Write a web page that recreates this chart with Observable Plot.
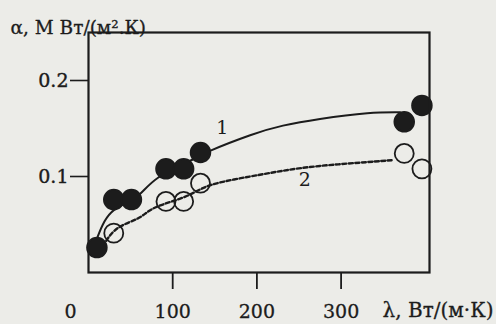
<!DOCTYPE html>
<html>
<head>
<meta charset="utf-8">
<script src="https://cdn.jsdelivr.net/npm/d3@7"></script>
<script src="https://cdn.jsdelivr.net/npm/@observablehq/plot@0.6"></script>
<style>
  html, body { margin: 0; padding: 0; background: #ecece8; }
  #chart { position: relative; width: 496px; height: 324px; }
  #chart svg { display: block; position: absolute; left: 0; top: 0; }
  #chart svg.overlay { pointer-events: none; }
</style>
</head>
<body>
<div id="chart"></div>
<script>
// Series 1 (filled circles)
const s1X = [10, 30, 51, 92, 113, 133, 375, 396];
const s1Y = [0.026, 0.076, 0.076, 0.108, 0.108, 0.125, 0.157, 0.174];
// Series 2 (open circles)
const s2X = [30, 92, 113, 133, 375, 396];
const s2Y = [0.041, 0.074, 0.074, 0.093, 0.124, 0.108];
// Fitted curve 1 (solid)
const c1X = [9, 27, 56, 83, 127, 145, 192, 231, 275, 331, 370];
const c1Y = [0.033, 0.0625, 0.078, 0.099, 0.119, 0.127, 0.143, 0.153, 0.160, 0.166, 0.167];
// Fitted curve 2 (dashed)
const c2X = [21, 36, 60, 80, 115, 145, 192, 231, 275, 331, 360];
const c2Y = [0.033, 0.047, 0.057, 0.068, 0.079, 0.091, 0.100, 0.106, 0.111, 0.115, 0.117];
// Axes
const xDomain = [0, 405];
const yDomain = [0, 0.25];
const xTicks = [100, 200, 300];
const xTickLabels = ["100", "200", "300"];
const yTicks = [0.1, 0.2];
const yTickLabels = ["0.1", "0.2"];
// Texts
const yTitle = "α, М Вт/(м².К)";
const xTitle = "λ, Вт/(м·К)";
const curveLabels = [{x: 159, y: 0.151, t: "1"}, {x: 257, y: 0.096, t: "2"}];

const pts1 = s1X.map((x, i) => ({x, y: s1Y[i]}));
const pts2 = s2X.map((x, i) => ({x, y: s2Y[i]}));
const cur1 = c1X.map((x, i) => ({x, y: c1Y[i]}));
const cur2 = c2X.map((x, i) => ({x, y: c2Y[i]}));

const ink = "#1c1c1c";
const font = "DejaVu Serif, Liberation Serif, serif";
const layout = {
  width: 496, height: 324,
  marginLeft: 88, marginRight: 67, marginTop: 32, marginBottom: 52,
  x: {domain: xDomain, axis: null},
  y: {domain: yDomain, axis: null}
};

// data layer
const chart = Plot.plot({
  ...layout,
  style: {background: "#ecece8", fontFamily: font},
  marks: [
    Plot.ruleY(yTicks, {x1: xDomain[0], x2: xDomain[0], insetLeft: -18, stroke: ink, strokeWidth: 1.6}),
    Plot.text(yTicks, {x: xDomain[0], y: d => d, text: (d, i) => yTickLabels[i], dx: -20, textAnchor: "end", fontSize: 19, fill: ink, stroke: ink, strokeWidth: 0.4}),
    Plot.text(xTicks, {x: d => d, text: (d, i) => xTickLabels[i], frameAnchor: "bottom", dy: 45, fontSize: 19, fill: ink, stroke: ink, strokeWidth: 0.3}),
    Plot.text(["0"], {x: () => 0, frameAnchor: "bottom", dy: 45, dx: -18, fontSize: 19, fill: ink, stroke: ink, strokeWidth: 0.3}),
    Plot.line(cur1, {x: "x", y: "y", curve: "natural", stroke: ink, strokeWidth: 2}),
    Plot.line(cur2, {x: "x", y: "y", curve: "natural", stroke: ink, strokeWidth: 2.4, strokeDasharray: "4,2.5"}),
    Plot.dot(pts1, {x: "x", y: "y", r: 10, fill: ink, stroke: ink}),
    Plot.dot(pts2, {x: "x", y: "y", r: 9.5, fill: "none", stroke: ink, strokeWidth: 1.8}),
    Plot.text(curveLabels, {x: "x", y: "y", text: "t", fontSize: 19, fill: ink}),
    Plot.text([yTitle], {frameAnchor: "top-left", dx: -78, dy: -12, textAnchor: "start", fontSize: 18.5, fill: ink, stroke: ink, strokeWidth: 0.3}),
    Plot.text([xTitle], {frameAnchor: "bottom-right", dx: 64, dy: 44, textAnchor: "end", fontSize: 20, fill: ink, stroke: ink, strokeWidth: 0.3})
  ]
});

// frame + x tick layer, same scales
const frameLayer = Plot.plot({
  ...layout,
  style: {background: "transparent"},
  marks: [
    Plot.frame({stroke: ink, strokeWidth: 2.2}),
    Plot.ruleX(xTicks, {y1: yDomain[0], y2: yDomain[0], insetBottom: -17, stroke: ink, strokeWidth: 1.8})
  ]
});
frameLayer.classList.add("overlay");

const host = document.getElementById("chart");
host.append(chart);
host.append(frameLayer);
</script>
</body>
</html>
